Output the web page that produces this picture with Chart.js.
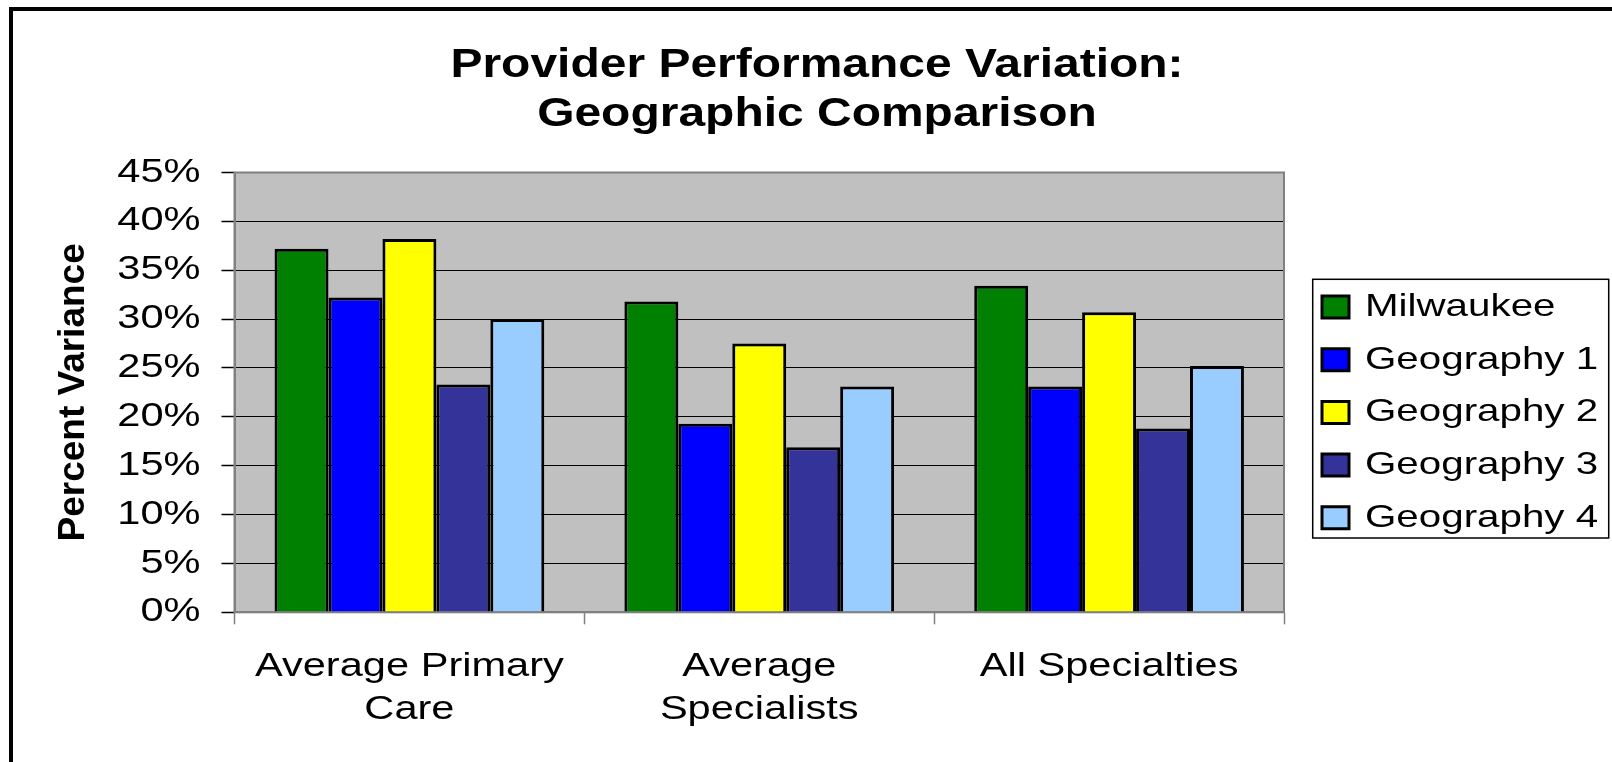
<!DOCTYPE html>
<html>
<head>
<meta charset="utf-8">
<script src="https://cdn.jsdelivr.net/npm/chart.js@4.4.1/dist/chart.umd.min.js"></script>
<style>
  html, body { margin: 0; padding: 0; background: #fff; overflow: hidden; }
  #wrap { position: absolute; left: 0; top: 0; width: 1612px; height: 762px; }
  #frame { position: absolute; left: 9px; top: 7px; width: 2000px; height: 2000px;
           border-left: 4px solid #000; border-top: 4px solid #000; pointer-events: none; }
</style>
</head>
<body>
<div id="wrap"><canvas id="c"></canvas></div>
<div id="frame"></div>
<script>
// ---- data ----
const titleLines = ['Provider Performance Variation:', 'Geographic Comparison'];
const yAxisTitle = 'Percent Variance';
const categories = [['Average Primary', 'Care'], ['Average', 'Specialists'], ['All Specialties']];
const seriesNames = ['Milwaukee', 'Geography 1', 'Geography 2', 'Geography 3', 'Geography 4'];
const milwaukee  = [37.2, 31.8, 33.4];
const geography1 = [32.2, 19.3, 23.1];
const geography2 = [38.2, 27.5, 30.7];
const geography3 = [23.3, 16.9, 18.8];
const geography4 = [30.0, 23.1, 25.2];
const yTickLabels = ['0%', '5%', '10%', '15%', '20%', '25%', '30%', '35%', '40%', '45%'];
const yMax = 45, yStep = 5;

const colors = ['#008000', '#0000FF', '#FFFF00', '#333399', '#99CCFF'];
const seriesValues = [milwaukee, geography1, geography2, geography3, geography4];
const FONT = "'Liberation Sans', Arial, sans-serif";

// horizontal text widening to match the wide lettering of the original
const SX = 1.26, SXB = 1.17;
const proto = CanvasRenderingContext2D.prototype;
const baseFill = proto.fillText, baseMeasure = proto.measureText;
function factor(ctx) { return /bold|[6-9]00/.test(ctx.font) ? SXB : SX; }
function widenText(ctx) {
  ctx.fillText = function (t, x, y, mw) {
    const m = this.getTransform();
    if (Math.abs(m.b) > 1e-6) {
      return mw === undefined ? baseFill.call(this, t, x, y) : baseFill.call(this, t, x, y, mw);
    }
    const k = factor(this);
    this.save();
    this.translate(x, y);
    this.scale(k, 1);
    if (mw === undefined) baseFill.call(this, t, 0, 0); else baseFill.call(this, t, 0, 0, mw / k);
    this.restore();
  };
  ctx.measureText = function (t) {
    const r = baseMeasure.call(this, t);
    const k = factor(this);
    return {
      width: r.width * k,
      actualBoundingBoxLeft: r.actualBoundingBoxLeft * k,
      actualBoundingBoxRight: r.actualBoundingBoxRight * k,
      actualBoundingBoxAscent: r.actualBoundingBoxAscent,
      actualBoundingBoxDescent: r.actualBoundingBoxDescent,
      fontBoundingBoxAscent: r.fontBoundingBoxAscent,
      fontBoundingBoxDescent: r.fontBoundingBoxDescent
    };
  };
}

const decor = {
  id: 'decor',
  afterLayout(chart) {
    const tb = chart.titleBlock;
    if (tb) { const d = 817 - (tb.left + tb.right) / 2; tb.left += d; tb.right += d; }
    const lg = chart.legend;
    if (lg) {
      lg.left = 1322 - 20.7; lg.top = 291 - 20.7;
      lg.width = 310; lg.right = lg.left + lg.width;
      lg.height = 300; lg.bottom = lg.top + lg.height;
    }
  },
  beforeDraw(chart) {
    const {ctx, chartArea: a} = chart;
    ctx.save();
    ctx.fillStyle = '#C0C0C0';
    ctx.fillRect(a.left, a.top, a.right - a.left, a.bottom - a.top);
    ctx.restore();
  },
  afterDatasetsDraw(chart) {
    const {ctx, chartArea: a} = chart;
    ctx.save();
    ctx.strokeStyle = '#808080';
    ctx.lineWidth = 2;
    ctx.strokeRect(a.left, a.top, a.right - a.left, a.bottom - a.top);
    ctx.restore();
  },
  afterDraw(chart) {
    const hb = chart.legend && chart.legend.legendHitBoxes && chart.legend.legendHitBoxes[0];
    if (!hb) return;
    const ctx = chart.ctx;
    ctx.save();
    ctx.strokeStyle = '#000';
    ctx.lineWidth = 1.5;
    ctx.strokeRect(hb.left - 9.3, hb.top - 11.7, 296, 258.7);
    ctx.restore();
  }
};

const canvas = document.getElementById('c');
const ctx = canvas.getContext('2d');
widenText(ctx);

new Chart(ctx, {
  type: 'bar',
  data: {
    labels: categories,
    datasets: seriesNames.map((name, i) => ({
      label: name,
      data: seriesValues[i],
      backgroundColor: colors[i],
      borderColor: '#000',
      borderWidth: 3,
      categoryPercentage: 0.771,
      barPercentage: 1.0
    }))
  },
  options: {
    responsive: true,
    maintainAspectRatio: false,
    animation: false,
    devicePixelRatio: 1,
    layout: { padding: { left: 0, right: 68, top: 0, bottom: 0 } },
    plugins: {
      title: {
        display: true,
        text: titleLines,
        color: '#000',
        font: { family: FONT, size: 41, weight: 'bold', lineHeight: 1.2 },
        padding: { top: 41, bottom: 33.1 }
      },
      legend: {
        display: true,
        position: 'right',
        align: 'start',
        maxWidth: 260,
        labels: {
          boxWidth: 27,
          boxHeight: 22,
          padding: 20.7,
          color: '#000',
          font: { family: FONT, size: 32 }
        }
      },
      tooltip: { enabled: false }
    },
    scales: {
      x: {
        offset: true,
        grid: { offset: true, drawOnChartArea: false, drawTicks: true, tickLength: 12, tickColor: '#808080', tickWidth: 1.5 },
        border: { display: true, color: '#808080', width: 2 },
        ticks: {
          color: '#000',
          padding: 20.5,
          maxRotation: 0,
          autoSkip: false,
          font: { family: FONT, size: 33, lineHeight: 1.31 }
        },
        afterFit(s) { s.height = 762 - 612.3; }
      },
      y: {
        min: 0,
        max: yMax,
        ticks: {
          stepSize: yStep,
          color: '#000',
          padding: 21,
          font: { family: FONT, size: 33 },
          callback: (v, i) => yTickLabels[i]
        },
        grid: { color: '#000', lineWidth: 1, drawTicks: true, tickLength: 13, tickColor: '#000', tickWidth: 1.5 },
        border: { display: true, color: '#808080', width: 2 },
        title: {
          display: true,
          text: yAxisTitle,
          color: '#000',
          font: { family: FONT, size: 37, weight: 'bold', lineHeight: 1.2 },
          padding: { top: 51.3, bottom: 0 }
        },
        afterFit(s) { s.width = 234.5; }
      }
    }
  },
  plugins: [decor]
});
</script>
</body>
</html>
